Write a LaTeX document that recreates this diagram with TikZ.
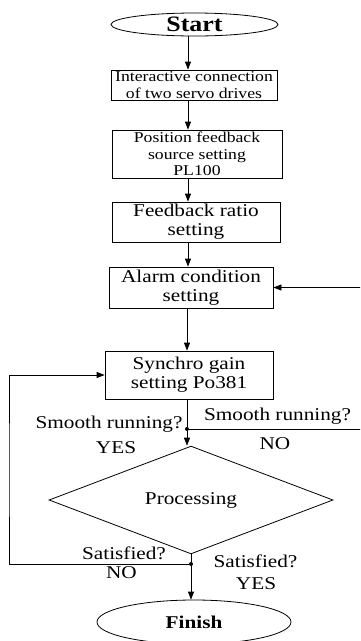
\documentclass[tikz,border=0pt]{standalone}
\usepackage{fontspec}
\setmainfont{Liberation Serif}[FakeStretch=1.18]
\usetikzlibrary{shapes.geometric,arrows.meta,positioning}

\begin{document}
\begin{tikzpicture}[x=1pt,y=-1pt,
    box/.style={draw, line width=0.8pt, rectangle, align=center, inner sep=0pt, font=\fontsize{18}{19}\selectfont},
    smallbox/.style={box, font=\fontsize{15}{16.5}\selectfont},
    term/.style={draw, line width=0.8pt, ellipse, inner sep=0pt, font=\bfseries\fontsize{18}{20}\selectfont},
    decision/.style={draw, line width=0.8pt, diamond, inner sep=0pt, font=\fontsize{18}{20}\selectfont},
    arr/.style={line width=0.8pt, -{Triangle[length=8pt,width=6pt]}},
    lbl/.style={anchor=base, inner sep=0pt, font=\fontsize{18}{20}\selectfont},
    dot/.style={circle, fill, inner sep=0pt, minimum size=4pt}]

  % page frame
  \useasboundingbox (0,0) rectangle (360,641);
  \clip (0,0) rectangle (360,641);

  % main column
  \node[term, minimum width=167pt, minimum height=23pt, font=\bfseries\fontsize{22}{24}\selectfont] (start) at (194.5,24.5) {Start};
  \node[smallbox, minimum width=166pt, minimum height=30pt] (conn) at (194,85) {Interactive connection\\of two servo drives};
  \node[smallbox, minimum width=170pt, minimum height=48pt] (source) at (197,154) {Position feedback\\source setting\\PL100};
  \node[box, minimum width=168pt, minimum height=40pt] (ratio) at (196,222) {Feedback ratio\\setting};
  \node[box, minimum width=164pt, minimum height=41pt] (alarm) at (191,287.5) {Alarm condition\\setting};
  \node[box, minimum width=168pt, minimum height=48pt] (gain) at (189,375) {Synchro gain\\setting Po381};
  \node[decision, minimum width=284pt, minimum height=90pt] (proc) at (191,500) {Processing};
  \node[term, minimum width=194pt, minimum height=44pt] (finish) at (194,622) {Finish};

  % junctions
  \node[dot] (run) at (187,429) {};
  \node[dot] (sat) at (191,564) {};
  \coordinate (axis) at (188,0);
  \coordinate (rrim) at (368,350);
  \coordinate (lrim) at (9,470);

  % connectors
  \draw[arr] (axis |- start.south) -- (axis |- conn.north);
  \draw[arr] (axis |- conn.south) -- (axis |- source.north);
  \draw[arr] (axis |- source.south) -- (axis |- ratio.north);
  \draw[arr] (axis |- ratio.south) -- (axis |- alarm.north);
  \draw[arr] (alarm.south -| run) -- (gain.north -| run);
  \draw[line width=0.8pt] (gain.south -| run) -- (run);
  \draw[arr] (run) -- (run |- proc.north);
  \draw[line width=0.8pt] (proc.south) -- (sat);
  \draw[arr] (sat) -- (finish.north -| sat);
  \draw[arr] (run) -| (rrim) |- (alarm.east);
  \draw[arr] (sat) -| (lrim) |- (gain.west);

  % branch labels
  \node[lbl] (runyesq) at (109,428) {Smooth running?};
  \node[lbl] (runyes) at (116,453) {YES};
  \node[lbl] (runnoq) at (277.5,420) {Smooth running?};
  \node[lbl] (runno) at (275,449) {NO};
  \node[lbl] (satnoq) at (124,559) {Satisfied?};
  \node[lbl] (satno) at (121.5,578) {NO};
  \node[lbl] (satyesq) at (255.5,567) {Satisfied?};
  \node[lbl] (satyes) at (256,589) {YES};
\end{tikzpicture}
\end{document}
